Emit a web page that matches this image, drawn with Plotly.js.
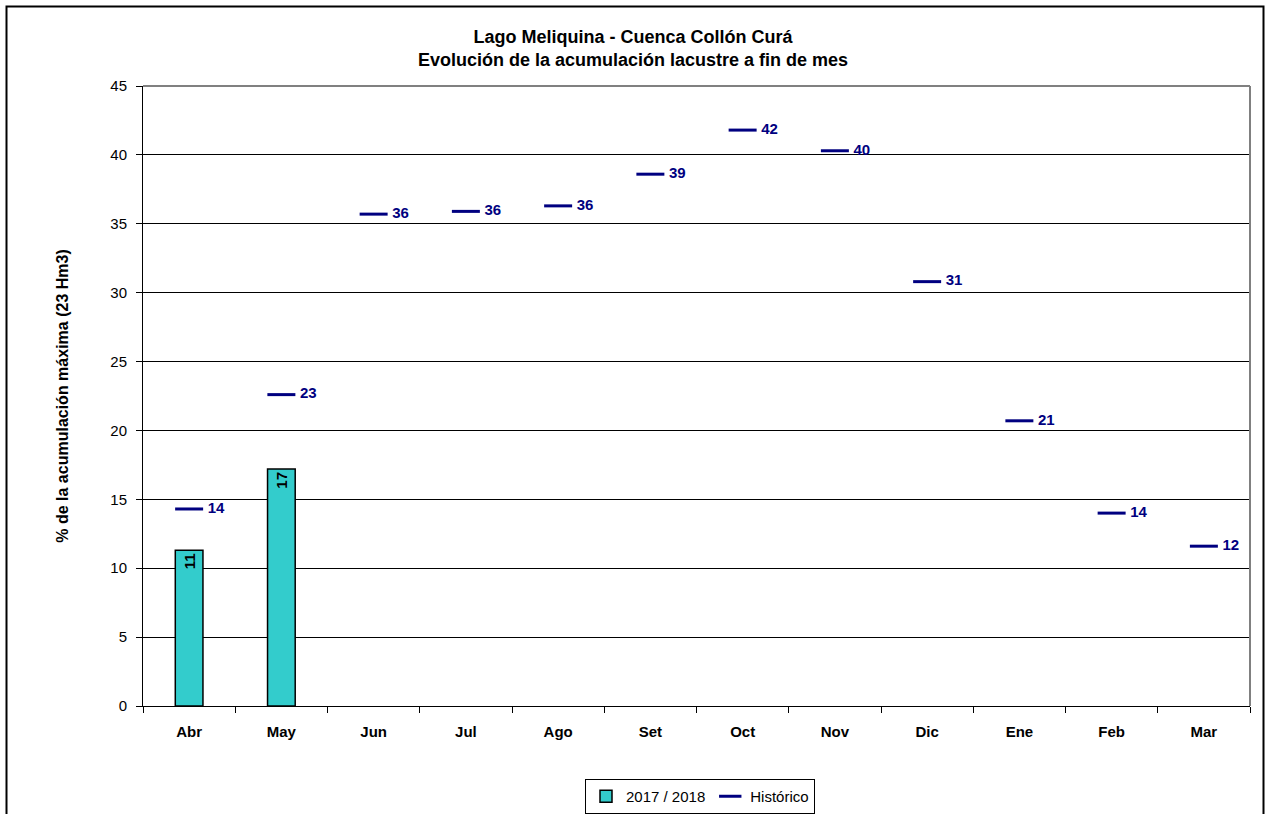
<!DOCTYPE html>
<html>
<head>
<meta charset="utf-8">
<script src="https://cdn.plot.ly/plotly-3.0.1.min.js"></script>
<style>
  html, body { margin: 0; padding: 0; background: #fff; }
  #chart { width: 1266px; height: 814px; }
</style>
</head>
<body>
<div id="chart"></div>
<script>
const months = ["Abr", "May", "Jun", "Jul", "Ago", "Set", "Oct", "Nov", "Dic", "Ene", "Feb", "Mar"];
const actual = [11.3, 17.2, null, null, null, null, null, null, null, null, null, null];
const historico = [14.3, 22.6, 35.7, 35.9, 36.3, 38.6, 41.8, 40.3, 30.8, 20.7, 14.0, 11.6];

const FONT = '"Liberation Sans", Arial, sans-serif';
const NAVY = '#000080';

const roundLabel = v => (v === null ? '' : String(Math.round(v)));

const traces = [
  {
    type: 'bar',
    name: '2017 / 2018',
    x: months,
    y: actual,
    width: 0.3,
    marker: { color: '#33CCCC', line: { color: '#000000', width: 1.5 } },
    text: actual.map(roundLabel),
    textposition: 'inside',
    insidetextanchor: 'end',
    textangle: -90,
    textfont: { family: FONT, size: 15, color: '#000000', weight: 'bold' },
    hoverinfo: 'x+y'
  },
  {
    type: 'scatter',
    mode: 'markers',
    name: 'Histórico',
    x: months,
    y: historico,
    marker: { symbol: 'line-ew', size: 20, color: NAVY, line: { color: NAVY, width: 3 } },
    hoverinfo: 'x+y'
  },
  {
    type: 'scatter',
    mode: 'markers+text',
    showlegend: false,
    x: months,
    y: historico,
    marker: { symbol: 'circle', size: 28, color: 'rgba(0,0,0,0)', line: { width: 0 } },
    text: historico.map(roundLabel),
    textposition: 'middle right',
    textfont: { family: FONT, size: 15, color: NAVY, weight: 'bold' },
    hoverinfo: 'skip',
    cliponaxis: false
  }
];

// Plot area: x 143..1250, y 86..706
const L = 143, R = 1250, T = 86, B = 706;
const px = x => (x - L) / (R - L);
const py = y => (B - y) / (B - T);

const layout = {
  width: 1266,
  height: 814,
  margin: { l: L, r: 1266 - R, t: T, b: 814 - B, pad: 0, autoexpand: false },
  paper_bgcolor: '#ffffff',
  plot_bgcolor: '#ffffff',
  font: { family: FONT, size: 15, color: '#000000' },
  title: {
    text: '<b>Lago Meliquina - Cuenca Collón Curá<br>Evolución de la acumulación lacustre a fin de mes</b>',
    font: { family: FONT, size: 18, color: '#000000' },
    x: 0.5,
    xanchor: 'center',
    y: 1 - 43 / 814,
    yanchor: 'top'
  },
  showlegend: true,
  legend: {
    orientation: 'h',
    x: px(700),
    xanchor: 'center',
    y: py(779),
    yanchor: 'top',
    bordercolor: '#000000',
    borderwidth: 1,
    bgcolor: '#ffffff',
    font: { family: FONT, size: 15, color: '#000000' },
    itemwidth: 30,
    tracegroupgap: 0
  },
  bargap: 0.7,
  xaxis: {
    type: 'category',
    range: [-0.5, 11.5],
    tickson: 'boundaries',
    ticks: 'outside',
    ticklen: 6,
    tickcolor: '#000000',
    showline: true,
    linecolor: '#000000',
    linewidth: 1,
    showgrid: false,
    tickfont: { family: FONT, size: 15, color: '#000000', weight: 'bold' },
    ticklabelstandoff: 12,
    fixedrange: true
  },
  yaxis: {
    range: [0, 45],
    dtick: 5,
    tick0: 0,
    ticks: 'outside',
    ticklen: 6,
    tickcolor: '#000000',
    showline: true,
    linecolor: '#000000',
    linewidth: 1,
    showgrid: true,
    gridcolor: '#000000',
    gridwidth: 1,
    zeroline: false,
    tickfont: { family: FONT, size: 15, color: '#000000' },
    ticklabelstandoff: 6,
    title: {
      text: '<b>% de la acumulación máxima (23 Hm3)</b>',
      font: { family: FONT, size: 16, color: '#000000' },
      standoff: 37
    },
    fixedrange: true
  },
  shapes: [
    { type: 'line', xref: 'paper', yref: 'paper', x0: 0, x1: 1, y0: 1, y1: 1,
      line: { color: '#808080', width: 2 }, layer: 'above' },
    { type: 'line', xref: 'paper', yref: 'paper', x0: 1, x1: 1, y0: 0, y1: 1,
      line: { color: '#808080', width: 2 }, layer: 'above' },
    { type: 'rect', xref: 'paper', yref: 'paper',
      x0: px(6.5), x1: px(1263.5), y0: py(830), y1: py(6.5),
      line: { color: '#000000', width: 2 }, fillcolor: 'rgba(0,0,0,0)', layer: 'above' }
  ]
};

Plotly.newPlot('chart', traces, layout, { displayModeBar: false, staticPlot: true });
</script>
</body>
</html>
